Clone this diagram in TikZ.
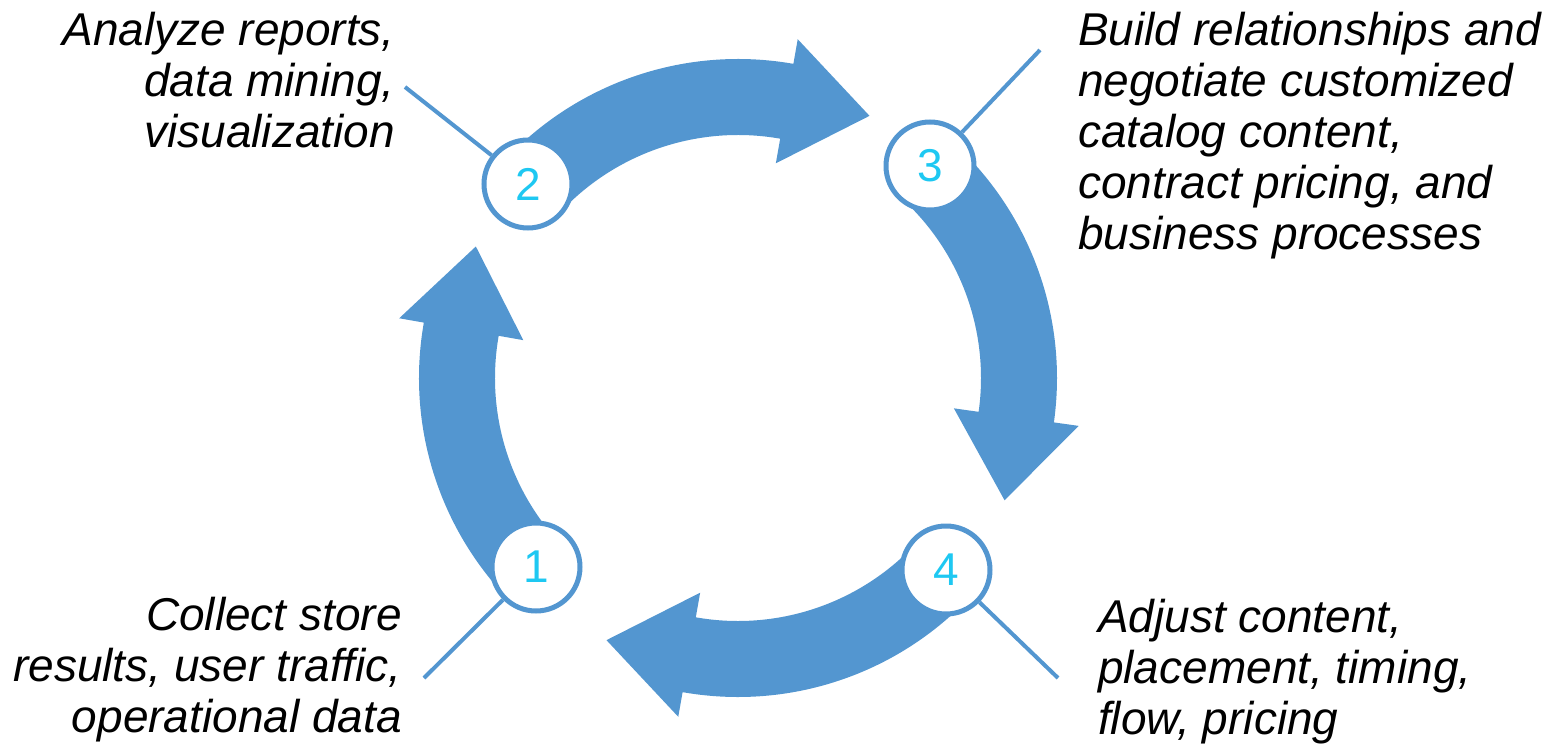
\documentclass[tikz,border=0pt]{standalone}
\usepackage{fontspec}
\setsansfont{Liberation Sans}
\usetikzlibrary{calc}
\definecolor{cycleblue}{RGB}{83,150,208}
\definecolor{numcyan}{RGB}{30,200,242}
\begin{document}
\begin{tikzpicture}[x=1pt, y=1pt,
    band/.style={fill=cycleblue},
    stage/.style={draw=cycleblue, circle, line width=5pt, fill=white, minimum size=88pt, inner sep=0pt, text=numcyan, font=\sffamily\fontsize{46}{46}\selectfont},
    leader/.style={draw=cycleblue, line width=4pt},
    note/.style={inner sep=0pt, font=\sffamily\itshape\fontsize{46}{51}\selectfont}]
      \useasboundingbox (-738,-366) rectangle (824,378);

      \coordinate (t12) at ($(170:281)+(80:84)$);
      \coordinate (t23) at ($(80:281)+(-10:84)$);
      \coordinate (t34) at ($(-8:281)+(-98:84)$);
      \coordinate (t41) at ($(260:281)+(170:84)$);

      \fill [band] (224:319) arc[start angle=224, end angle=170, radius=319] -- (170:344) -- (t12) -- (170:218) -- (170:243) arc[start angle=170, end angle=224, radius=243] -- cycle;
      \fill [band] (137:319) arc[start angle=137, end angle=80, radius=319] -- (80:344) -- (t23) -- (80:218) -- (80:243) arc[start angle=80, end angle=137, radius=243] -- cycle;
      \fill [band] (48:319) arc[start angle=48, end angle=-8, radius=319] -- (-8:344) -- (t34) -- (-8:218) -- (-8:243) arc[start angle=-8, end angle=48, radius=243] -- cycle;
      \fill [band] (317:319) arc[start angle=317, end angle=260, radius=319] -- (260:344) -- (t41) -- (260:218) -- (260:243) arc[start angle=260, end angle=317, radius=243] -- cycle;

      \node [stage] (c1) at (-202,-189) {1};
      \node [stage] (c2) at (-210,194) {2};
      \node [stage] (c3) at (192,212) {3};
      \node [stage] (c4) at (208,-192) {4};

      \coordinate (l1) at (-314,-300);
      \coordinate (l2) at (-333,291);
      \coordinate (l3) at (302,328);
      \coordinate (l4) at (320,-300);

      \draw [leader] (c1) -- (l1);
      \draw [leader] (c2) -- (l2);
      \draw [leader] (c3) -- (l3);
      \draw [leader] (c4) -- (l4);

      \node [note, anchor=north east, align=right] (n1) at (-336,-219) {Collect store\\results, user traffic,\\operational data};
      \node [note, anchor=north east, align=right] (n2) at (-343,366) {Analyze reports,\\data mining,\\visualization};
      \node [note, anchor=north west, align=left] (n3) at (340,366) {Build relationships and\\negotiate customized\\catalog content,\\contract pricing, and\\business processes};
      \node [note, anchor=north west, align=left] (n4) at (360,-221) {Adjust content,\\placement, timing,\\flow, pricing};
    \end{tikzpicture}
\end{document}
